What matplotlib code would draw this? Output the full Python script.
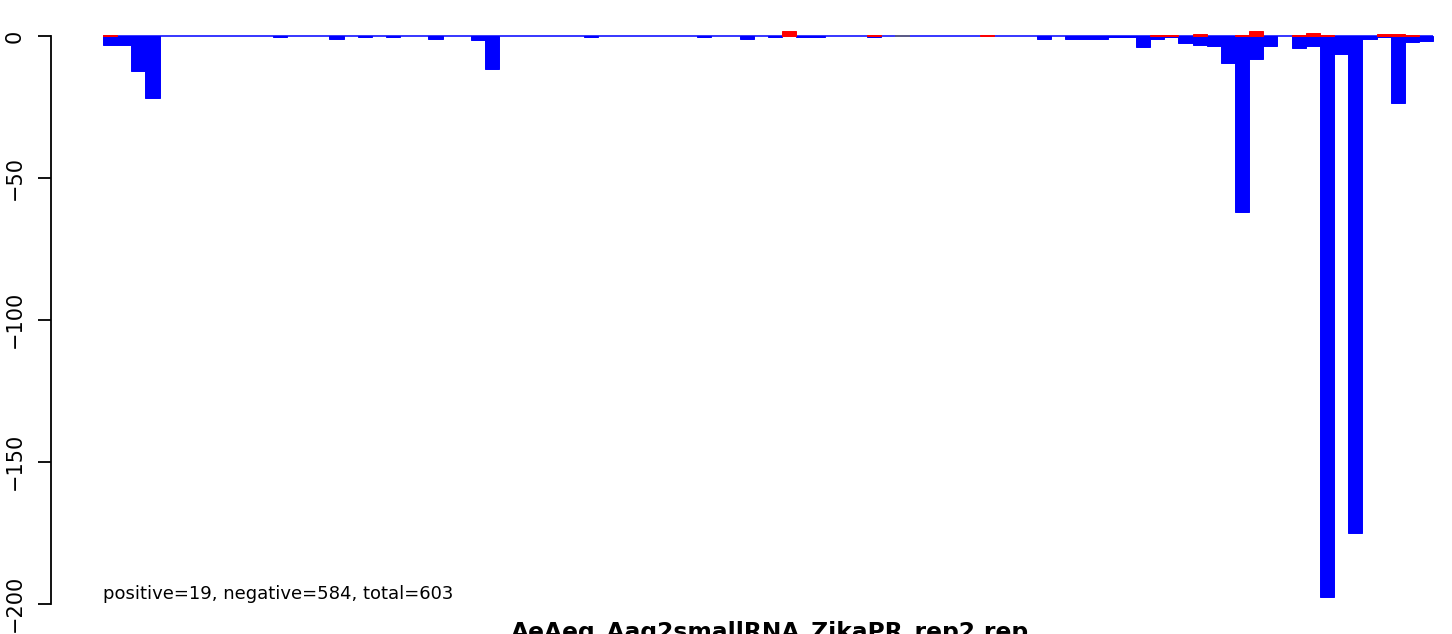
import matplotlib
matplotlib.use("Agg")
import matplotlib.pyplot as plt
import numpy as np

# ---- data (94 bins) ----
n_bins = 94
neg_bins = [0, 1, 2, 3, 12, 16, 18, 20, 23, 26, 27, 34, 42, 45, 47, 49, 50, 54,
            66, 68, 69, 70, 71, 72, 73, 74, 75, 76, 77, 78, 79, 80, 81, 82, 84,
            85, 86, 87, 88, 89, 90, 91, 92, 93]
neg_vals = [-3.2, -3.2, -12.3, -21.8, -0.4, -1.0, -0.4, -0.4, -1.0, -1.4, -11.6,
            -0.4, -0.4, -1.0, -0.4, -0.4, -0.4, -0.4,
            -1.0, -1.0, -1.0, -1.0, -0.4, -0.4, -3.8, -1.0, -0.4, -2.5, -3.2,
            -3.5, -9.5, -61.9, -8.1, -3.5, -4.2,
            -3.5, -197.7, -6.3, -175.1, -1.0, -0.4, -23.6, -2.1, -1.8]
pos_bins = [0, 48, 54, 62, 74, 75, 77, 80, 81, 84, 85, 86, 90, 91, 92]
pos_vals = [0.3, 1.7, 0.3, 0.3, 0.3, 0.3, 0.6, 0.3, 1.7, 0.3, 1.0, 0.3, 0.6, 0.6, 0.3]
gray_bins = [56]

yticks = [0, -50, -100, -150, -200]
ytick_labels = ["0", "\u221250", "\u2212100", "\u2212150", "\u2212200"]
note = "positive=19, negative=584, total=603"
title = "AeAeg_Aag2smallRNA_ZikaPR_rep2.rep"

# ---- figure ----
W, H, DPI = 1452, 634, 100
fig = plt.figure(figsize=(W / DPI, H / DPI), dpi=DPI)

# pixel geometry
x_axis_px = 50.7
x0_px = 103.0
bin_px = 14.15
y0_px = 36.0
unit_px = 2.838

ax = fig.add_axes([x_axis_px / W, 0.0, 1 - x_axis_px / W, 1.0])
ax.set_xlim(-(x0_px - x_axis_px) / bin_px, (W - x0_px) / bin_px)
ax.set_ylim(-(H - y0_px) / unit_px, y0_px / unit_px)
ax.patch.set_alpha(0)

blue = "#0000FF"
red = "#FF0000"

ax.bar(neg_bins, neg_vals, width=1.0, align="edge", color=blue,
       edgecolor=blue, linewidth=0.7, zorder=2)
ax.hlines(0, 0, n_bins, colors=blue, linewidth=1.1, zorder=3)
for b in gray_bins:
    ax.hlines(0, b, b + 1, colors="#666666", linewidth=1.1, zorder=4)
ax.bar(pos_bins, pos_vals, width=1.0, align="edge", color=red,
       edgecolor=red, linewidth=0.7, zorder=5)

for s in ["top", "right", "bottom"]:
    ax.spines[s].set_visible(False)
ax.spines["left"].set_bounds(-200, 0)
ax.spines["left"].set_linewidth(1.3)
ax.set_xticks([])
ax.set_yticks(yticks)
ax.set_yticklabels(ytick_labels, rotation=90, va="center", fontsize=15)
ax.tick_params(axis="y", length=9.6, width=1.3, pad=9)

ax.text(0, -(598.7 - y0_px) / unit_px, note, ha="left", va="baseline",
        fontsize=12.96, color="black")

fig.text(770 / W, (H - 639) / H, title, ha="center", va="baseline",
         fontsize=16.8, fontweight="bold")

fig.savefig("out.png", dpi=DPI)
